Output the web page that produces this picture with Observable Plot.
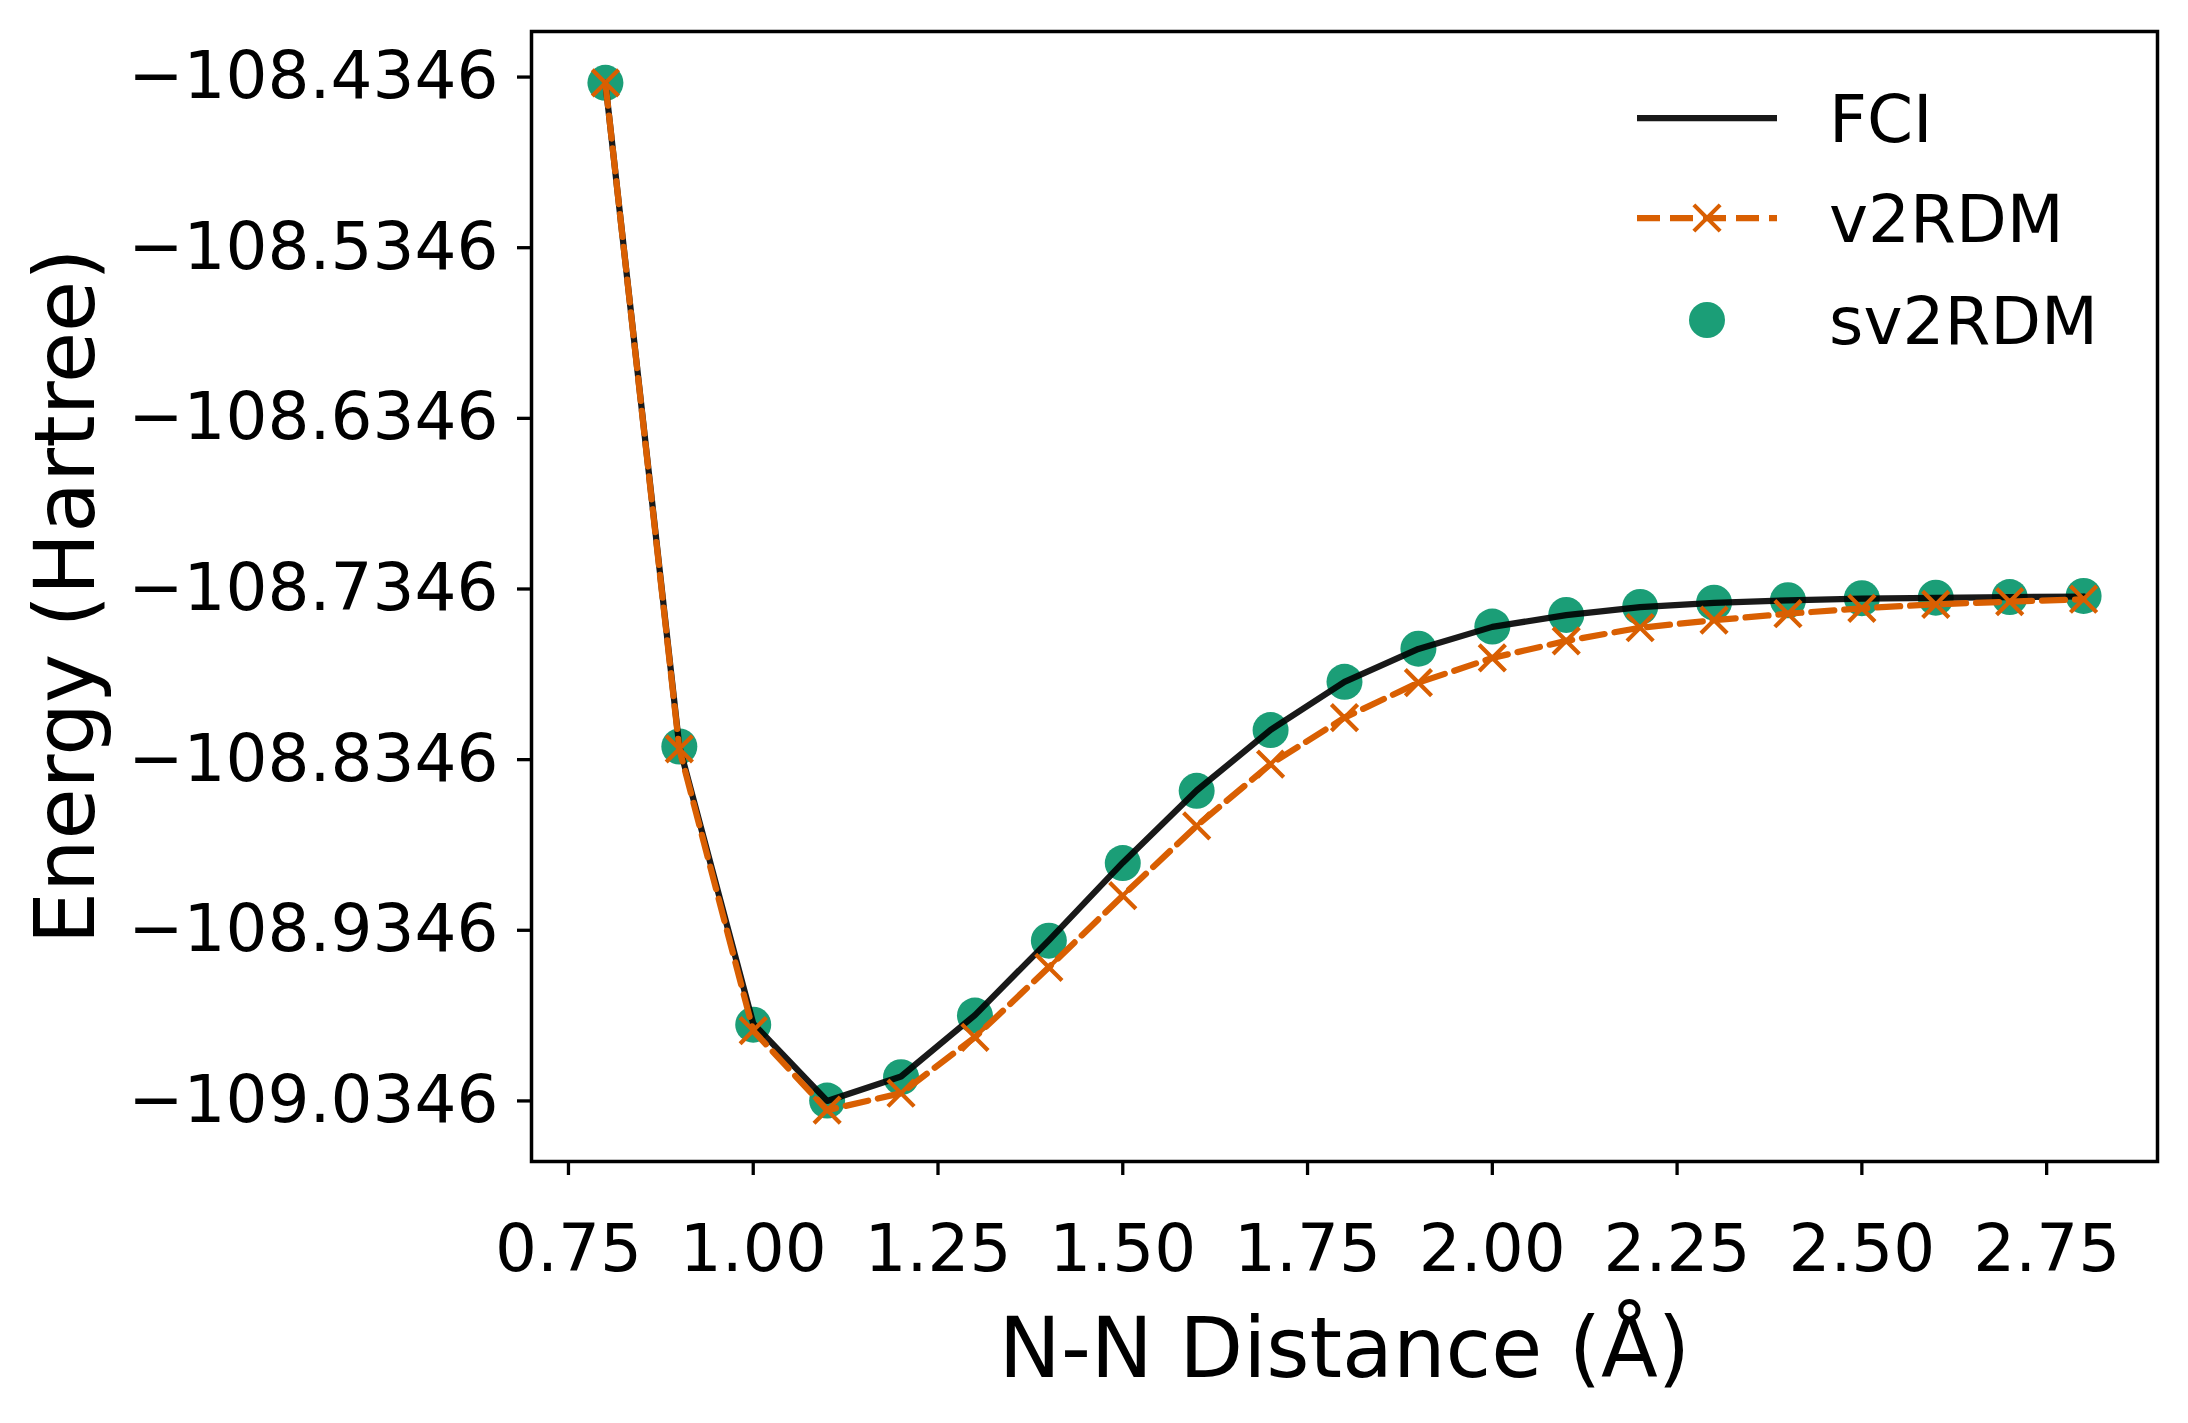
<!DOCTYPE html>
<html>
<head>
<meta charset="utf-8">
<script src="https://cdn.jsdelivr.net/npm/d3@7"></script>
<script src="https://cdn.jsdelivr.net/npm/@observablehq/plot@0.6"></script>
<style>
  html, body { margin: 0; padding: 0; background: #fff; }
  #chart svg { display: block; font-family: "DejaVu Sans", sans-serif; }
</style>
</head>
<body>
<div id="chart"></div>
<script>
// ---- Data ----
const distances = [0.8, 0.9, 1.0, 1.1, 1.2, 1.3, 1.4, 1.5, 1.6, 1.7, 1.8, 1.9, 2.0, 2.1, 2.2, 2.3, 2.4, 2.5, 2.6, 2.7, 2.8];
const fciEnergy = [-108.4380, -108.8268, -108.9893, -109.0346, -109.0203, -108.9843, -108.9405, -108.8950, -108.8527, -108.8172, -108.7890, -108.7697, -108.7568, -108.7499, -108.7452, -108.7427, -108.7413, -108.7403, -108.7398, -108.7394, -108.7390];
const v2rdmEnergy = [-108.4380, -108.8283, -108.9934, -109.0400, -109.0301, -108.9973, -108.9563, -108.9143, -108.8734, -108.8372, -108.8100, -108.7895, -108.7750, -108.7650, -108.7573, -108.7529, -108.7491, -108.7459, -108.7436, -108.7420, -108.7406];
const sv2rdmEnergy = [-108.4380, -108.8269, -108.9899, -109.0344, -109.0207, -108.9846, -108.9407, -108.8952, -108.8529, -108.8173, -108.7890, -108.7696, -108.7566, -108.7498, -108.7451, -108.7426, -108.7412, -108.7400, -108.7397, -108.7393, -108.7387];
const yTickValues = [-108.4346, -108.5346, -108.6346, -108.7346, -108.8346, -108.9346, -109.0346];
const xTickValues = [0.75, 1.00, 1.25, 1.50, 1.75, 2.00, 2.25, 2.50, 2.75];
const seriesLabels = ["FCI", "v2RDM", "sv2RDM"];
const xLabel = "N-N Distance (Å)";
const yLabel = "Energy (Hartree)";

// ---- Tables built from arrays ----
const fci = distances.map((d, i) => ({x: d, y: fciEnergy[i]}));
const v2 = distances.map((d, i) => ({x: d, y: v2rdmEnergy[i]}));
const sv2 = distances.map((d, i) => ({x: d, y: sv2rdmEnergy[i]}));

const BLACK = "#000000";
const ORANGE = "#d95f02";
const GREEN = "#1b9e77";
const W = 2188, H = 1423;
const mL = 531, mR = 31, mT = 31, mB = 262;

const chart = Plot.plot({
  width: W,
  height: H,
  marginLeft: mL,
  marginRight: mR,
  marginTop: mT,
  marginBottom: mB,
  style: {fontFamily: "DejaVu Sans, sans-serif", background: "#fff", color: "#000"},
  x: {domain: [0.7, 2.9]},
  y: {domain: [-109.0701, -108.4079]},
  marks: [
    Plot.dot(sv2, {x: "x", y: "y", r: 18, fill: GREEN, stroke: "none"}),
    Plot.line(fci, {x: "x", y: "y", stroke: BLACK, strokeOpacity: 0.9, strokeWidth: 6.25}),
    Plot.line(v2, {x: "x", y: "y", stroke: ORANGE, strokeWidth: 6.25, strokeDasharray: "23,10"}),
    Plot.dot(v2, {x: "x", y: "y", symbol: "times", r: 12, stroke: ORANGE, strokeWidth: 4.2, fill: "none"}),
    Plot.frame({stroke: "#000", strokeWidth: 3.5}),
    Plot.axisY({
      ticks: yTickValues,
      tickFormat: d => "\u2212" + Math.abs(d).toFixed(4),
      tickSize: 14,
      tickPadding: 19,
      strokeWidth: 3.3,
      fontSize: 66,
      label: null
    }),
    Plot.axisX({
      ticks: xTickValues,
      tickFormat: d => d.toFixed(2),
      tickSize: 14,
      tickPadding: 49,
      strokeWidth: 3.3,
      fontSize: 66,
      label: null
    }),
    Plot.text([xLabel], {frameAnchor: "bottom", dy: 215, lineAnchor: "bottom", fontSize: 83, fill: "#000"}),
    Plot.text([yLabel], {frameAnchor: "left", dx: -438, rotate: -90, lineAnchor: "bottom", textAnchor: "middle", fontSize: 83, fill: "#000"})
  ]
});

document.getElementById("chart").appendChild(chart);

// ---- Legend (inside the axes, upper right) ----
const svg = d3.select(chart);
const lg = svg.append("g").attr("class", "legend")
  .attr("font-family", "DejaVu Sans, sans-serif")
  .attr("text-anchor", "start");
const lx0 = 1637, lx1 = 1777, lxc = 1707, tx = 1829;
const rows = [118, 218, 320];
// FCI
lg.append("line").attr("x1", lx0).attr("x2", lx1).attr("y1", rows[0]).attr("y2", rows[0])
  .attr("stroke", BLACK).attr("stroke-opacity", 0.9).attr("stroke-width", 6.25);
// v2RDM
lg.append("line").attr("x1", lx0).attr("x2", lx1).attr("y1", rows[1]).attr("y2", rows[1])
  .attr("stroke", ORANGE).attr("stroke-width", 6.25).attr("stroke-dasharray", "23,10");
lg.append("path").attr("transform", `translate(${lxc},${rows[1]})`)
  .attr("d", d3.symbol(d3.symbolTimes, Math.PI * 144)())
  .attr("stroke", ORANGE).attr("stroke-width", 4.2).attr("fill", "none");
// sv2RDM
lg.append("circle").attr("cx", lxc).attr("cy", rows[2]).attr("r", 18).attr("fill", GREEN);
seriesLabels.forEach((s, i) => {
  lg.append("text").attr("x", tx).attr("y", rows[i]).attr("dy", "0.36em")
    .attr("text-anchor", "start")
    .attr("font-size", 66).attr("fill", "#000").text(s);
});
</script>
</body>
</html>
